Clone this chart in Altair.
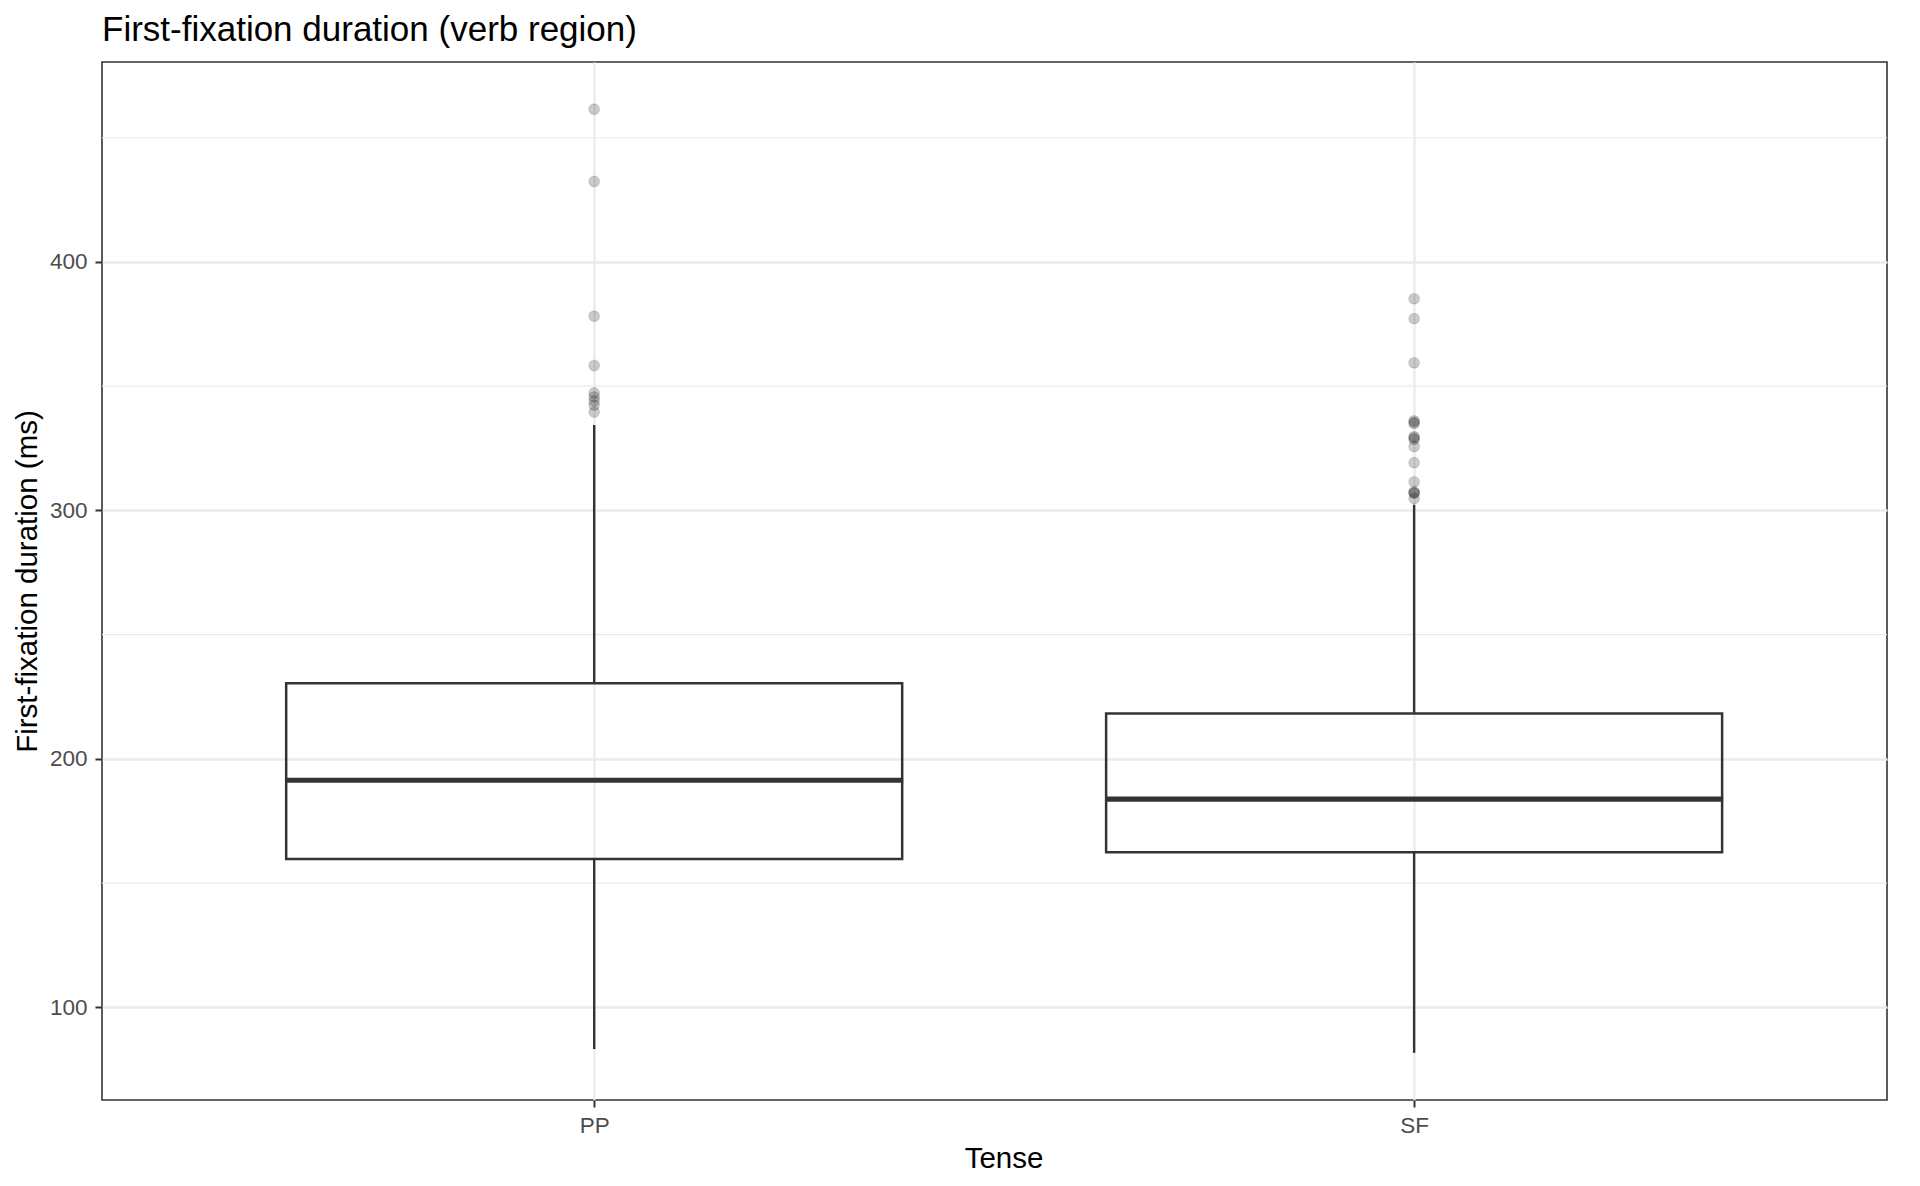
import altair as alt
import pandas as pd

# ---- data ----
tense = ["PP", "SF"]
q1 = [159.7, 162.4]
median = [191.4, 183.8]
q3 = [230.4, 218.3]
whisker_lo = [83.2, 81.7]
whisker_hi = [334.4, 302.3]

outliers_pp = [461.5, 432.4, 378.2, 358.3, 347.3, 345.7, 344.1, 342.4, 339.6]
outliers_sf = [385.2, 377.2, 359.4, 336.1, 335.5, 335.0, 329.7, 329.2, 328.6,
               325.7, 319.2, 311.5, 307.5, 307.0, 307.0, 304.8]

y_ticks = [100, 200, 300, 400]
y_minor = [150, 250, 350, 450]

FONT = "Liberation Sans"
DARK = "#333333"

box_df = pd.DataFrame({
    "tense": tense, "q1": q1, "median": median, "q3": q3,
    "lo": whisker_lo, "hi": whisker_hi,
})
out_df = pd.DataFrame({
    "tense": ["PP"] * len(outliers_pp) + ["SF"] * len(outliers_sf),
    "value": outliers_pp + outliers_sf,
})
minor_df = pd.DataFrame({"y": y_minor})

# ggplot-like 5% expansion of the data range
all_vals = whisker_lo + whisker_hi + outliers_pp + outliers_sf
vmin, vmax = min(all_vals), max(all_vals)
pad = 0.05 * (vmax - vmin)
y_scale = alt.Scale(domain=[vmin - pad, vmax + pad], nice=False, zero=False)
x_scale = alt.Scale(type="point", padding=0.5885, align=0.51, domain=tense)

W, H = 1785, 1038

x_enc = alt.X("tense:N", scale=x_scale, sort=tense,
              axis=alt.Axis(title="Tense", labelAngle=0, titlePadding=8,
                            titleX=W / 2 + 9))
y_axis = alt.Axis(title="First-fixation duration (ms)", values=y_ticks,
                  format="d", titlePadding=7)

BOX_W = 616

minor = alt.Chart(minor_df).mark_rule(color="#EBEBEB", strokeWidth=1.2).encode(
    y=alt.Y("y:Q", scale=y_scale, axis=y_axis)
)

whisk_low = alt.Chart(box_df).mark_rule(color=DARK, strokeWidth=2.4).encode(
    x=x_enc,
    y=alt.Y("lo:Q", scale=y_scale, axis=y_axis),
    y2="q1:Q",
)
whisk_high = alt.Chart(box_df).mark_rule(color=DARK, strokeWidth=2.4).encode(
    x=x_enc,
    y=alt.Y("q3:Q", scale=y_scale, axis=y_axis),
    y2="hi:Q",
)
boxes = alt.Chart(box_df).mark_bar(
    size=BOX_W, fill="white", fillOpacity=0, stroke=DARK, strokeWidth=2.5
).encode(
    x=x_enc,
    y=alt.Y("q1:Q", scale=y_scale, axis=y_axis),
    y2="q3:Q",
)
medians = alt.Chart(box_df).mark_tick(
    size=BOX_W + 2, thickness=5.2, color=DARK, opacity=1
).encode(
    x=x_enc,
    y=alt.Y("median:Q", scale=y_scale, axis=y_axis),
)
points = alt.Chart(out_df).mark_point(
    size=115, filled=True, fill="black", fillOpacity=0.2,
    stroke="black", strokeOpacity=0.12, strokeWidth=1.2, opacity=1
).encode(
    x=x_enc,
    y=alt.Y("value:Q", scale=y_scale, axis=y_axis),
)

chart = alt.layer(minor, whisk_low, whisk_high, boxes, medians, points).properties(
    width=W,
    height=H,
    autosize=alt.AutoSizeParams(type="none"),
    padding={"left": 94, "top": 54, "right": 20, "bottom": 78},
    title=alt.TitleParams(
        "First-fixation duration (verb region)",
        anchor="start", frame="group", font=FONT, fontSize=35,
        fontWeight="normal", color="black", offset=14,
    ),
).configure_view(
    stroke=DARK, strokeWidth=1.6, fill="white"
).configure_axis(
    domain=False,
    grid=True,
    gridColor="#EBEBEB",
    gridWidth=2.3,
    tickColor=DARK,
    tickWidth=2,
    tickSize=7,
    labelPadding=7,
    labelColor="#4D4D4D",
    labelFont=FONT,
    labelFontSize=22.5,
    titleFont=FONT,
    titleFontSize=29.5,
    titleFontWeight="normal",
    titleColor="black",
).configure_axisY(
    labelPadding=8
)

chart.save("out.html", embed_options={"renderer": "svg", "actions": False})
